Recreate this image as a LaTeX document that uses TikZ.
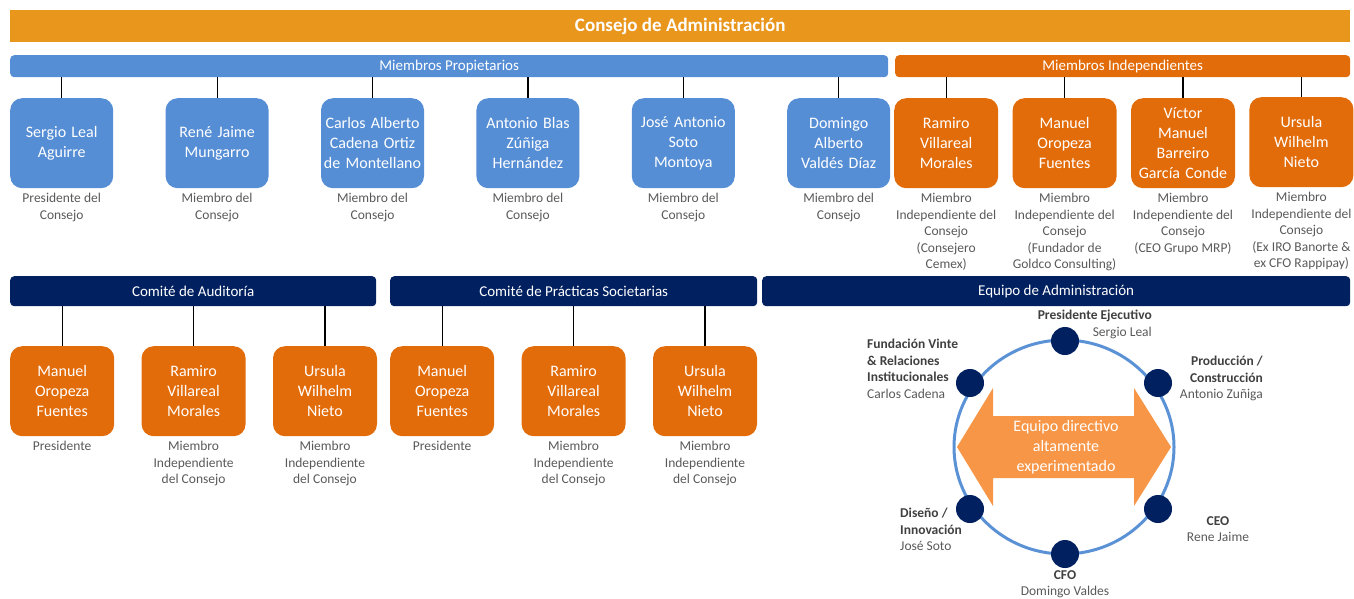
\documentclass[tikz,border=0pt]{standalone}
\usepackage{fontspec}
\setmainfont{Carlito}
\usetikzlibrary{positioning}
\definecolor{boardorange}{RGB}{233,150,29}
\definecolor{ownerblue}{RGB}{85,142,213}
\definecolor{indeporange}{RGB}{227,108,10}
\definecolor{teamnavy}{RGB}{0,32,96}
\definecolor{ringblue}{RGB}{91,146,214}
\definecolor{arroworange}{RGB}{247,150,70}
\definecolor{notegray}{RGB}{89,89,89}
\definecolor{labelgray}{RGB}{64,64,64}

\begin{document}
\begin{tikzpicture}[x=1pt, y=-1pt,
  bar/.style={anchor=north west, inner sep=0, text=white, font=\fontsize{15}{18}\selectfont},
  person/.style={rounded corners=12pt, text=white, minimum width=104pt, minimum height=90pt,
    text width=102pt, align=center, inner sep=0, font=\fontsize{16}{20}\selectfont},
  owner/.style={person, fill=ownerblue, minimum width=103pt},
  indep/.style={person, fill=indeporange},
  note/.style={text=notegray, align=center, inner sep=0, font=\fontsize{13.5}{16.5}\selectfont},
  link/.style={draw=black, line width=1.2pt},
  dot/.style={circle, fill=teamnavy, minimum size=28pt, inner sep=0},
  role/.style={text=labelgray, inner sep=0, font=\fontsize{13.5}{16.5}\selectfont}]
\useasboundingbox (0,0) rectangle (1354,598);

% Board header and the two member groups
\node[bar, fill=boardorange, minimum width=1340pt, minimum height=32pt,
  font=\fontsize{19}{22}\bfseries] (board) at (10,10) {Consejo de Administración};
\node[bar, fill=ownerblue, rounded corners=4pt, minimum width=878pt, minimum height=22pt] (owners) at (10,55) {Miembros Propietarios};
\node[bar, fill=indeporange, rounded corners=4pt, minimum width=455pt, minimum height=22pt] (indeps) at (895,55) {Miembros Independientes};

% Owner members
\node[owner, anchor=north west] (ob1) at (10,98) {Sergio Leal\\Aguirre};
\node[owner, right=52pt of ob1] (ob2) {René Jaime\\Mungarro};
\node[owner, right=52pt of ob2] (ob3) {Carlos Alberto\\Cadena Ortiz\\de Montellano};
\node[owner, right=52pt of ob3] (ob4) {Antonio Blas\\Zúñiga\\Hernández};
\node[owner, right=52pt of ob4] (ob5) {José Antonio\\Soto\\Montoya};
\node[owner, right=52pt of ob5] (ob6) {Domingo\\Alberto\\Valdés Díaz};

\node[note, below=5pt of ob1] (on1) {Presidente del\\Consejo};
\node[note, below=5pt of ob2] (on2) {Miembro del\\Consejo};
\node[note, below=5pt of ob3] (on3) {Miembro del\\Consejo};
\node[note, below=5pt of ob4] (on4) {Miembro del\\Consejo};
\node[note, below=5pt of ob5] (on5) {Miembro del\\Consejo};
\node[note, below=5pt of ob6] (on6) {Miembro del\\Consejo};

% Independent members
\node[indep, anchor=north west] (ib1) at (894,98) {Ramiro\\Villareal\\Morales};
\node[indep, right=14pt of ib1] (ib2) {Manuel\\Oropeza\\Fuentes};
\node[indep, right=14pt of ib2] (ib3) {Víctor\\Manuel\\Barreiro\\García Conde};
\node[indep, right=14pt of ib3, yshift=1pt] (ib4) {Ursula\\Wilhelm\\Nieto};

\node[note, below=5pt of ib1] (in1) {Miembro\\Independiente del\\Consejo\\(Consejero\\Cemex)};
\node[note, below=5pt of ib2] (in2) {Miembro\\Independiente del\\Consejo\\(Fundador de\\Goldco Consulting)};
\node[note, below=5pt of ib3] (in3) {Miembro\\Independiente del\\Consejo\\(CEO Grupo MRP)};
\node[note, below=5pt of ib4] (in4) {Miembro\\Independiente del\\Consejo\\(Ex IRO Banorte \&\\ex CFO Rappipay)};

\draw[link] (ob1.north) -- (ob1.north |- owners.south) (ob2.north) -- (ob2.north |- owners.south)
  (ob3.north) -- (ob3.north |- owners.south) (ob4.north) -- (ob4.north |- owners.south)
  (ob5.north) -- (ob5.north |- owners.south) (ob6.north) -- (ob6.north |- owners.south);
\draw[link] (ib1.north) -- (ib1.north |- indeps.south) (ib2.north) -- (ib2.north |- indeps.south)
  (ib3.north) -- (ib3.north |- indeps.south) (ib4.north) -- (ib4.north |- indeps.south);

% Committees
\node[bar, fill=teamnavy, rounded corners=4pt, minimum width=366pt, minimum height=30pt] (audit) at (10,276) {Comité de Auditoría};
\node[bar, fill=teamnavy, rounded corners=4pt, minimum width=367pt, minimum height=30pt] (practice) at (390,276) {Comité de Prácticas Societarias};
\node[bar, fill=teamnavy, rounded corners=4pt, minimum width=588pt, minimum height=30pt] (team) at (762,276) {Equipo de Administración};

\node[indep, anchor=north west] (ab1) at (10,346) {Manuel\\Oropeza\\Fuentes};
\node[indep, right=27pt of ab1] (ab2) {Ramiro\\Villareal\\Morales};
\node[indep, right=27pt of ab2] (ab3) {Ursula\\Wilhelm\\Nieto};
\node[note, below=5pt of ab1] (an1) {Presidente};
\node[note, below=5pt of ab2] (an2) {Miembro\\Independiente\\del Consejo};
\node[note, below=5pt of ab3] (an3) {Miembro\\Independiente\\del Consejo};

\node[indep, anchor=north west] (pb1) at (390,346) {Manuel\\Oropeza\\Fuentes};
\node[indep, right=27pt of pb1] (pb2) {Ramiro\\Villareal\\Morales};
\node[indep, right=27pt of pb2] (pb3) {Ursula\\Wilhelm\\Nieto};
\node[note, below=5pt of pb1] (pn1) {Presidente};
\node[note, below=5pt of pb2] (pn2) {Miembro\\Independiente\\del Consejo};
\node[note, below=5pt of pb3] (pn3) {Miembro\\Independiente\\del Consejo};

\draw[link] (ab1.north) -- (ab1.north |- audit.south) (ab2.north) -- (ab2.north |- audit.south)
  (ab3.north) -- (ab3.north |- audit.south);
\draw[link] (pb1.north) -- (pb1.north |- practice.south) (pb2.north) -- (pb2.north |- practice.south)
  (pb3.north) -- (pb3.north |- practice.south);

% Management team ring
\draw[ringblue, line width=3pt] (1064,447) ellipse (110 and 107);
\fill[arroworange] (957,447) -- (993,388) -- (993,416) -- (1134,416) -- (1134,388) -- (1171,447)
  -- (1134,506) -- (1134,478) -- (993,478) -- (993,506) -- cycle;
\node[text=white, align=center, inner sep=0, font=\fontsize{16}{20}\selectfont] (core) at (1066,447)
  {Equipo directivo\\altamente\\experimentado};

\node[dot] (d1) at (1065,341) {};
\node[dot] (d2) at (1158,383) {};
\node[dot] (d3) at (1158,509) {};
\node[dot] (d4) at (1065,554) {};
\node[dot] (d5) at (970,509) {};
\node[dot] (d6) at (970,383) {};

\node[role, align=right, anchor=north east] (r1) at (1152,310) {\textbf{Presidente Ejecutivo}\\\textcolor{notegray}{Sergio Leal}};
\node[role, align=right, anchor=north east] (r2) at (1263,356) {\textbf{Producción /}\\\textbf{Construcción}\\\textcolor{notegray}{Antonio Zuñiga}};
\node[role, align=center, anchor=north] (r3) at (1218,516) {\textbf{CEO}\\\textcolor{notegray}{Rene Jaime}};
\node[role, align=center, anchor=north] (r4) at (1065,570) {\textbf{CFO}\\\textcolor{notegray}{Domingo Valdes}};
\node[role, align=left, anchor=north west] (r5) at (900,508) {\textbf{Diseño /}\\\textbf{Innovación}\\\textcolor{notegray}{José Soto}};
\node[role, align=left, anchor=north west] (r6) at (867,339) {\textbf{Fundación Vinte}\\\textbf{\& Relaciones}\\\textbf{Institucionales}\\\textcolor{notegray}{Carlos Cadena}};
\end{tikzpicture}
\end{document}
